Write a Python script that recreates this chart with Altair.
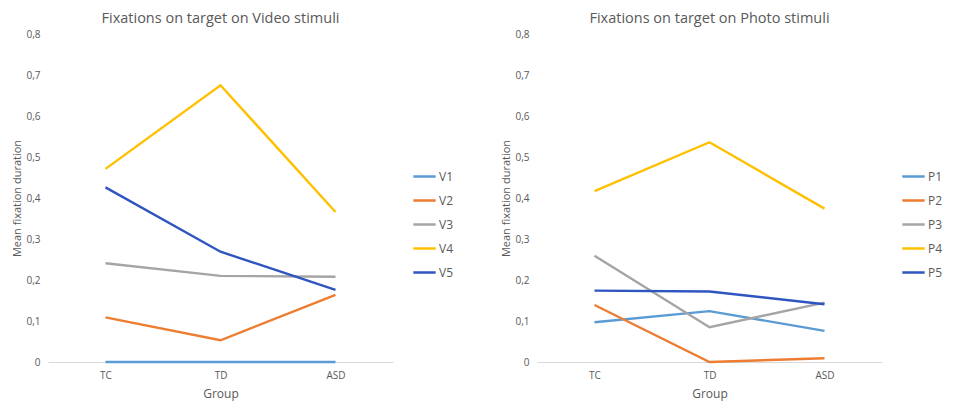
import altair as alt
import pandas as pd

groups = ["TC", "TD", "ASD"]

video_series = ["V1", "V2", "V3", "V4", "V5"]
video_values = {
    "V1": [0.0, 0.0, 0.0],
    "V2": [0.109, 0.053, 0.164],
    "V3": [0.241, 0.210, 0.208],
    "V4": [0.471, 0.675, 0.366],
    "V5": [0.426, 0.269, 0.176],
}

photo_series = ["P1", "P2", "P3", "P4", "P5"]
photo_values = {
    "P1": [0.097, 0.124, 0.076],
    "P2": [0.139, 0.0, 0.009],
    "P3": [0.259, 0.085, 0.145],
    "P4": [0.417, 0.536, 0.374],
    "P5": [0.174, 0.172, 0.141],
}

palette = ["#5B9BD5", "#ED7D31", "#A5A5A5", "#FFC000", "#2F55C0"]
y_ticks = [0, 0.1, 0.2, 0.3, 0.4, 0.5, 0.6, 0.7, 0.8]

FONT = "Open Sans"
GREY = "#595959"


def to_df(series, values):
    rows = []
    for s in series:
        for g, v in zip(groups, values[s]):
            rows.append({"Series": s, "Group": g, "Value": v})
    return pd.DataFrame(rows)


def panel(series, values, title):
    df = to_df(series, values)
    return alt.Chart(df).mark_line(strokeWidth=2.4).encode(
        x=alt.X("Group:N", sort=groups, scale=alt.Scale(domain=groups, paddingOuter=0.5, paddingInner=0),
                axis=alt.Axis(title="Group", labelAngle=0, ticks=False, domainColor="#D9D9D9",
                              labelPadding=8, titlePadding=8)),
        y=alt.Y("Value:Q", scale=alt.Scale(domain=[0, 0.8], nice=False),
                axis=alt.Axis(title="Mean fixation duration", values=y_ticks, grid=False, domain=False,
                              ticks=False, labelPadding=8, titlePadding=3,
                              labelExpr="datum.value == 0 ? '0' : replace(format(datum.value, '.1f'), '.', ',')")),
        color=alt.Color("Series:N", scale=alt.Scale(domain=series, range=palette),
                        legend=alt.Legend(title=None, orient="none", legendX=364, legendY=130,
                                          symbolType="stroke", symbolSize=500, symbolStrokeWidth=2.5,
                                          labelOffset=2, rowPadding=5, labelFontSize=12)),
        order=alt.Order("Series:N"),
    ).properties(
        width=345, height=328,
        title=alt.TitleParams(title, fontSize=14.5, fontWeight="normal", color=GREY, font=FONT, offset=3),
    )


left = panel(video_series, video_values, "Fixations on target on Video stimuli")
right = panel(photo_series, photo_values, "Fixations on target on Photo stimuli")

chart = alt.hconcat(left, right, spacing=46).resolve_scale(color="independent").properties(
    padding={"left": 3, "top": 2, "right": 2, "bottom": 3}
).configure_view(stroke=None).configure_axis(
    labelFont=FONT, titleFont=FONT, labelColor=GREY, titleColor=GREY,
    labelFontSize=10, titleFontSize=11, titleFontWeight="normal",
).configure_axisX(labelFontSize=10, titleFontSize=12).configure_legend(
    labelFont=FONT, labelColor=GREY
)

chart.save("out.html", embed_options={"renderer": "svg", "actions": False})
